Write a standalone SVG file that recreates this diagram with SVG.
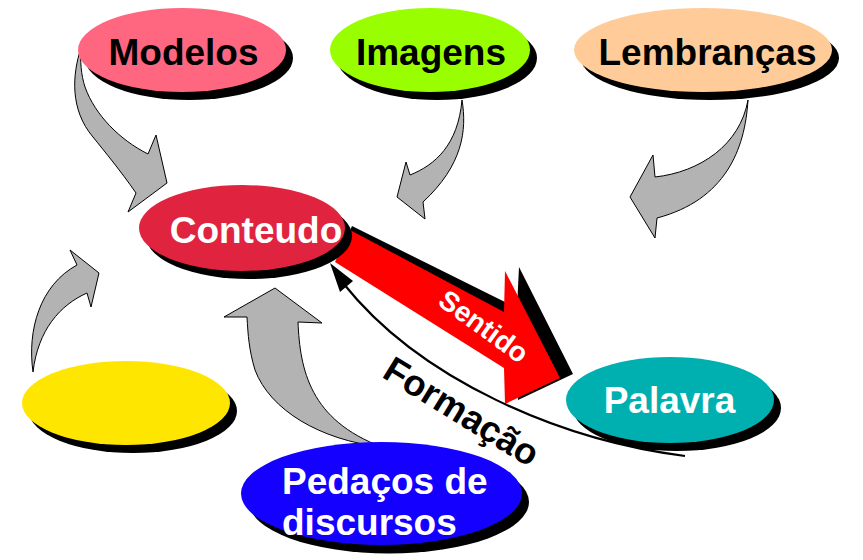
<svg xmlns="http://www.w3.org/2000/svg" width="863" height="560" viewBox="0 0 863 560">
<style>
.t{font-family:"Liberation Sans",Arial,sans-serif;font-weight:bold;font-size:37px}
.k{fill:#000}
.w{fill:#fff}
.sh{fill:#000}
.g{fill:#b3b3b3;stroke:#000;stroke-width:1;stroke-linejoin:miter}
</style>
<rect width="863" height="560" fill="#fff"/>
<g id="connectors">
  <path class="g" d="M81,48 C72,75 70,110 93,137 C105,152 120,170 136,193 L128,212 L167,183 L156,135 L148,154 C120,140 95,115 85,87 C81,75 80,60 81,48 Z"/>
  <path class="g" d="M462,100 C467,130 463,165 423,202 L425,219 L397,197 L406,162 L410,175 C435,165 458,145 462,100 Z"/>
  <path class="g" d="M748,100 C745,150 725,200 657,218 L655,238 L630,197 L653,155 L655,177 C700,172 740,145 748,100 Z"/>
  <path class="g" d="M33,372 C27,330 40,285 77,265 L70,250 L99,273 L91,307 L87,293 C60,305 38,330 33,372 Z"/>
  <path class="g" d="M275,288 L322,323 L298,322 C300,370 310,420 382,447 C320,440 270,410 255,370 C249,350 248,335 247,317 L224,317 Z"/>
  <polygon fill="#000" points="352,226 517,308 519,267 573,374 518,400 517,364 338,258"/>
  <polygon fill="#ff0000" points="350,230 504,312 505,271 560,378 505,404 504,368 335,262"/>
  <path d="M685,456 C560,440 420,380 343,283" fill="none" stroke="#000" stroke-width="2.2"/>
  <polygon fill="#000" points="330,263 353,281 340,292"/>
</g>
<g id="modelos">
  <ellipse class="sh" cx="189" cy="58" rx="104" ry="42"/>
  <ellipse cx="182" cy="50" rx="104" ry="42" fill="#ff6680"/>
  <text class="t k" x="183.5" y="65" text-anchor="middle">Modelos</text>
</g>
<g id="imagens">
  <ellipse class="sh" cx="437" cy="58" rx="100" ry="42"/>
  <ellipse cx="430" cy="50" rx="100" ry="42" fill="#99ff00"/>
  <text class="t k" x="431" y="65" text-anchor="middle">Imagens</text>
</g>
<g id="lembrancas">
  <ellipse class="sh" cx="710" cy="58" rx="129" ry="42"/>
  <ellipse cx="703" cy="50" rx="129" ry="42" fill="#ffcc99"/>
  <text class="t k" x="707.5" y="65" text-anchor="middle">Lembranças</text>
</g>
<g id="conteudo">
  <ellipse class="sh" cx="249" cy="236" rx="103" ry="43"/>
  <ellipse cx="242" cy="228" rx="103" ry="43" fill="#e0243f"/>
  <text class="t w" x="256" y="243" text-anchor="middle">Conteudo</text>
</g>
<g id="amarelo">
  <ellipse class="sh" cx="133" cy="411" rx="104" ry="42"/>
  <ellipse cx="126" cy="403" rx="104" ry="42" fill="#ffe600"/>
</g>
<g id="palavra">
  <ellipse class="sh" cx="677" cy="408" rx="104" ry="43"/>
  <ellipse cx="670" cy="400" rx="104" ry="43" fill="#00b0b0"/>
  <text class="t w" x="669.5" y="413" text-anchor="middle">Palavra</text>
</g>
<g id="pedacos">
  <ellipse class="sh" cx="389" cy="502" rx="140" ry="51.5"/>
  <ellipse cx="381.5" cy="493.5" rx="140.5" ry="51.5" fill="#1400ff"/>
  <text class="t w" x="282" y="494">Pedaços de</text>
  <text class="t w" x="282" y="535">discursos</text>
</g>
<g id="labels">
  <text class="t w" style="font-size:28px" transform="translate(484,326) rotate(36)" x="0" y="10" text-anchor="middle">Sentido</text>
  <text class="t k" style="font-size:36.5px" transform="translate(462,411) rotate(31.5)" x="0" y="13" text-anchor="middle">Formação</text>
</g>
</svg>
